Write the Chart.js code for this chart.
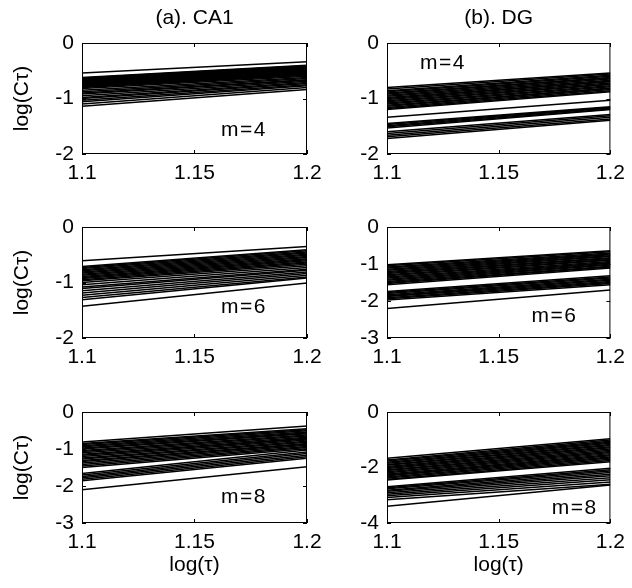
<!DOCTYPE html>
<html>
<head>
<meta charset="utf-8">
<script src="https://cdn.jsdelivr.net/npm/chart.js@4/dist/chart.umd.min.js"></script>
<style>
  html, body { margin: 0; padding: 0; background: #fff; }
  #fig { position: relative; width: 632px; height: 588px; overflow: hidden; }
  #fig canvas { position: absolute; }
</style>
</head>
<body>
<div id="fig"></div>
<script>
// log(tau) at the two ends of every fitted line
const tauEnds = [1.1, 1.2];
const xTicks = [1.1, 1.15, 1.2];

const yTicksTo2 = [-2, -1, 0];
const yTicksTo3 = [-3, -2, -1, 0];
const yTicksTo4 = [-4, -2, 0];

// log(C_tau) of each recording at log(tau) = 1.1 (Start) and 1.2 (End)
const ca1M4Start = [-0.54, -0.62, -0.63, -0.64, -0.65, -0.66, -0.67, -0.68, -0.69, -0.70, -0.71, -0.72, -0.73, -0.74, -0.75, -0.76, -0.77, -0.78, -0.79, -0.80, -0.82, -0.85, -0.88, -0.90, -0.92, -0.95, -0.98, -1.00, -1.03, -1.06, -1.10, -1.14];
const ca1M4End   = [-0.34, -0.40, -0.41, -0.42, -0.43, -0.44, -0.45, -0.46, -0.47, -0.48, -0.49, -0.50, -0.51, -0.52, -0.53, -0.54, -0.55, -0.56, -0.57, -0.58, -0.60, -0.62, -0.64, -0.66, -0.67, -0.69, -0.71, -0.73, -0.75, -0.77, -0.80, -0.84];

const dgM4Start = [-0.80, -0.83, -0.86, -0.88, -0.90, -0.92, -0.94, -0.96, -0.98, -1.00, -1.02, -1.04, -1.06, -1.08, -1.10, -1.12, -1.14, -1.16, -1.18, -1.20, -1.34, -1.45, -1.47, -1.49, -1.51, -1.53, -1.60, -1.63, -1.66, -1.69, -1.72];
const dgM4End   = [-0.54, -0.56, -0.58, -0.60, -0.62, -0.63, -0.65, -0.67, -0.69, -0.70, -0.72, -0.74, -0.75, -0.77, -0.79, -0.81, -0.82, -0.84, -0.86, -0.88, -1.03, -1.15, -1.16, -1.17, -1.19, -1.20, -1.29, -1.31, -1.34, -1.37, -1.39];

const ca1M6Start = [-0.61, -0.71, -0.73, -0.75, -0.77, -0.79, -0.81, -0.83, -0.85, -0.87, -0.89, -0.91, -0.93, -0.95, -0.97, -1.00, -1.04, -1.08, -1.11, -1.15, -1.19, -1.23, -1.27, -1.31, -1.43];
const ca1M6End   = [-0.35, -0.41, -0.43, -0.45, -0.47, -0.49, -0.51, -0.53, -0.55, -0.57, -0.59, -0.61, -0.63, -0.65, -0.67, -0.70, -0.73, -0.76, -0.78, -0.81, -0.84, -0.87, -0.90, -0.92, -1.01];

const dgM6Start = [-1.02, -1.05, -1.08, -1.11, -1.14, -1.17, -1.20, -1.23, -1.26, -1.29, -1.32, -1.35, -1.38, -1.41, -1.44, -1.47, -1.50, -1.53, -1.56, -1.74, -1.77, -1.80, -1.83, -1.86, -1.88, -1.91, -1.94, -1.97, -2.20];
const dgM6End   = [-0.64, -0.67, -0.70, -0.73, -0.75, -0.78, -0.80, -0.83, -0.85, -0.88, -0.90, -0.93, -0.96, -0.98, -1.01, -1.03, -1.06, -1.08, -1.11, -1.32, -1.35, -1.38, -1.41, -1.44, -1.47, -1.50, -1.53, -1.56, -1.70];

const ca1M8Start = [-0.81, -0.85, -0.88, -0.91, -0.94, -0.97, -1.00, -1.04, -1.07, -1.10, -1.14, -1.17, -1.20, -1.24, -1.27, -1.31, -1.34, -1.38, -1.42, -1.46, -1.50, -1.66, -1.70, -1.74, -1.78, -1.82, -1.86, -2.10];
const ca1M8End   = [-0.38, -0.45, -0.48, -0.51, -0.54, -0.57, -0.59, -0.62, -0.65, -0.68, -0.71, -0.73, -0.76, -0.79, -0.82, -0.85, -0.87, -0.90, -0.93, -0.96, -0.99, -1.03, -1.08, -1.12, -1.17, -1.21, -1.25, -1.48];

const dgM8Start = [-1.67, -1.73, -1.77, -1.81, -1.85, -1.89, -1.92, -1.96, -2.00, -2.04, -2.08, -2.11, -2.15, -2.19, -2.23, -2.27, -2.30, -2.34, -2.38, -2.42, -2.45, -2.69, -2.73, -2.77, -2.82, -2.86, -2.91, -2.96, -3.02, -3.08, -3.16, -3.40];
const dgM8End   = [-0.96, -1.01, -1.05, -1.09, -1.13, -1.17, -1.21, -1.25, -1.29, -1.33, -1.38, -1.42, -1.46, -1.50, -1.54, -1.58, -1.62, -1.66, -1.70, -1.75, -1.79, -2.03, -2.08, -2.13, -2.18, -2.24, -2.30, -2.37, -2.44, -2.52, -2.60, -2.63];

// grid cell layout (pixels)
const COLS = [
  { left: 0,   width: 330, axisW: 82, padRight: 23, yTitle: 'log(C\u03C4)' },
  { left: 316, width: 316, axisW: 71, padRight: 19, yTitle: null },
];
const ROWS = [
  { top: 0,   height: 190, padTop: 0,  axisH: 36, xTitle: null },
  { top: 190, height: 184, padTop: 37, axisH: 36, xTitle: null },
  { top: 374, height: 214, padTop: 38, axisH: 65, xTitle: 'log(\u03C4)' },
];

const cells = [
  { col: 0, row: 0, head: '(a). CA1', start: ca1M4Start, end: ca1M4End, yTicks: yTicksTo2, tag: 'm=4', tagAt: [1.172, -1.57] },
  { col: 1, row: 0, head: '(b). DG',  start: dgM4Start,  end: dgM4End,  yTicks: yTicksTo2, tag: 'm=4', tagAt: [1.125, -0.36] },
  { col: 0, row: 1, head: null, start: ca1M6Start, end: ca1M6End, yTicks: yTicksTo2, tag: 'm=6', tagAt: [1.172, -1.44] },
  { col: 1, row: 1, head: null, start: dgM6Start,  end: dgM6End,  yTicks: yTicksTo3, tag: 'm=6', tagAt: [1.175, -2.40] },
  { col: 0, row: 2, head: null, start: ca1M8Start, end: ca1M8End, yTicks: yTicksTo3, tag: 'm=8', tagAt: [1.172, -2.30] },
  { col: 1, row: 2, head: null, start: dgM8Start,  end: dgM8End,  yTicks: yTicksTo4, tag: 'm=8', tagAt: [1.184, -3.46] },
];

const FONT = "'Liberation Sans', Arial, Helvetica, sans-serif";
Chart.defaults.font.family = FONT;
Chart.defaults.font.size = 21;
Chart.defaults.color = '#000';

// box around the plot area with short inward ticks on all four sides
const framePlugin = {
  id: 'frame',
  afterDatasetsDraw(chart) {
    const { ctx, chartArea: a, scales: { x, y } } = chart;
    const len = 4;
    ctx.save();
    ctx.strokeStyle = '#000';
    ctx.lineWidth = 1;
    ctx.strokeRect(a.left + 0.5, a.top + 0.5, a.right - a.left - 1, a.bottom - a.top - 1);
    ctx.beginPath();
    for (const t of x.ticks) {
      const px = Math.round(x.getPixelForValue(t.value)) + 0.5;
      ctx.moveTo(px, a.bottom); ctx.lineTo(px, a.bottom - len);
      ctx.moveTo(px, a.top);    ctx.lineTo(px, a.top + len);
    }
    for (const t of y.ticks) {
      const py = Math.round(y.getPixelForValue(t.value)) + 0.5;
      ctx.moveTo(a.left, py);  ctx.lineTo(a.left + len, py);
      ctx.moveTo(a.right, py); ctx.lineTo(a.right - len, py);
    }
    ctx.stroke();
    ctx.restore();
  },
};

// "m=…" embedding-dimension tag placed in data coordinates
const tagPlugin = {
  id: 'tag',
  afterDatasetsDraw(chart, args, opts) {
    if (!opts || !opts.text) return;
    const { ctx, scales: { x, y } } = chart;
    ctx.save();
    ctx.font = '21px ' + FONT;
    if ('letterSpacing' in ctx) ctx.letterSpacing = '1.5px';
    ctx.fillStyle = '#000';
    ctx.textAlign = 'center';
    ctx.textBaseline = 'middle';
    ctx.fillText(opts.text, x.getPixelForValue(opts.at[0]), y.getPixelForValue(opts.at[1]));
    ctx.restore();
  },
};

const fig = document.getElementById('fig');

for (const cell of cells) {
  const c = COLS[cell.col];
  const r = ROWS[cell.row];

  const canvas = document.createElement('canvas');
  canvas.width = c.width;
  canvas.height = r.height;
  canvas.style.left = c.left + 'px';
  canvas.style.top = r.top + 'px';
  canvas.style.width = c.width + 'px';
  canvas.style.height = r.height + 'px';
  fig.appendChild(canvas);

  const n = Math.min(cell.start.length, cell.end.length);
  const datasets = [];
  for (let i = 0; i < n; i++) {
    datasets.push({
      data: [{ x: tauEnds[0], y: cell.start[i] }, { x: tauEnds[1], y: cell.end[i] }],
      borderColor: '#000',
      borderWidth: 1.5,
      pointRadius: 0,
      fill: false,
      tension: 0,
    });
  }

  const yTicks = cell.yTicks;

  new Chart(canvas, {
    type: 'line',
    data: { datasets },
    plugins: [framePlugin, tagPlugin],
    options: {
      responsive: false,
      animation: false,
      events: [],
      devicePixelRatio: 1,
      layout: { padding: { top: r.padTop, right: c.padRight, bottom: 0, left: 0 } },
      plugins: {
        legend: { display: false },
        tooltip: { enabled: false },
        title: {
          display: !!cell.head,
          text: cell.head || '',
          fullSize: false,
          font: { size: 21, weight: 'normal' },
          color: '#000',
          padding: { top: 6, bottom: 11.8 },
        },
        tag: { text: cell.tag, at: cell.tagAt },
      },
      scales: {
        x: {
          type: 'linear',
          min: tauEnds[0],
          max: tauEnds[1],
          grid: { display: false, drawTicks: false },
          border: { display: false },
          ticks: { padding: 7, autoSkip: false, maxRotation: 0, callback: (v) => String(v) },
          afterBuildTicks: (s) => { s.ticks = xTicks.map((v) => ({ value: v })); },
          afterFit: (s) => { s.height = r.axisH; },
          title: {
            display: !!r.xTitle,
            text: r.xTitle || '',
            font: { size: 21 },
            padding: { top: 0, bottom: 10 },
          },
        },
        y: {
          type: 'linear',
          min: yTicks[0],
          max: yTicks[yTicks.length - 1],
          grid: { display: false, drawTicks: false },
          border: { display: false },
          ticks: { padding: 8, autoSkip: false, callback: (v) => String(v) },
          afterBuildTicks: (s) => { s.ticks = yTicks.map((v) => ({ value: v })); },
          afterFit: (s) => { s.width = c.axisW; },
          title: {
            display: !!c.yTitle,
            text: c.yTitle || '',
            font: { size: 21 },
            padding: { top: 10, bottom: 0 },
          },
        },
      },
    },
  });
}
</script>
</body>
</html>
